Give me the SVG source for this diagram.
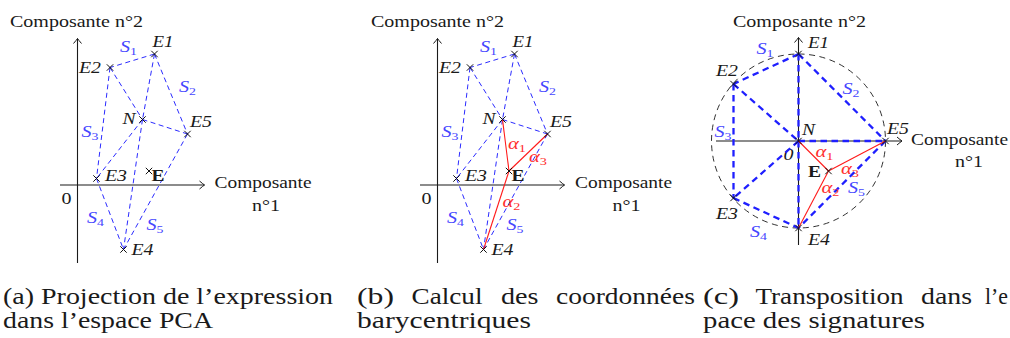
<svg xmlns="http://www.w3.org/2000/svg" width="1010" height="338" viewBox="0 0 1010 338">
<style>
.ax{stroke:#1a1a1a;stroke-width:1.1;fill:none}
.tri{stroke:#2b2bff;stroke-width:1;fill:none;stroke-dasharray:5 3.5}
.tri2{stroke:#1f1fff;stroke-width:2.3;fill:none;stroke-dasharray:6.5 4.5}
.circ{stroke:#1a1a1a;stroke-width:0.9;fill:none;stroke-dasharray:6 4.5}
.red{stroke:#ff1a1a;stroke-width:1.1;fill:none}
.x{stroke:#111;stroke-width:1;fill:none}
text{font-family:"Liberation Serif","DejaVu Serif",serif;fill:#1a1a1a}
.lab{font-size:16px;font-style:italic}
.ax-lab{font-size:16px}
.blue{fill:#4646ff}
.rd{fill:#ff2e2e}
.bold{font-size:16px;font-weight:bold}
.sub{font-size:11px;font-style:normal}
.cap{font-size:24px}
</style>
<defs>
<marker id="arr" markerWidth="12" markerHeight="12" refX="0" refY="0" viewBox="-6 -6 12 12" orient="auto" markerUnits="userSpaceOnUse">
<path d="M-5,-4 Q-1.5,-1 0,0 Q-1.5,1 -5,4" stroke="#1a1a1a" stroke-width="1" fill="none"/>
</marker>
<path id="cr" d="M-3.2,-3.2 L3.2,3.2 M-3.2,3.2 L3.2,-3.2" class="x"/>
</defs>

<!-- ===== Panel (a) ===== -->
<g id="panel-a">
<g id="a-axes">
<line class="ax" x1="77.5" y1="263" x2="77.5" y2="38.5" marker-end="url(#arr)"/>
<line class="ax" x1="60" y1="185" x2="204.5" y2="185" marker-end="url(#arr)"/>
<text class="ax-lab" x="10" y="27" textLength="133" lengthAdjust="spacingAndGlyphs">Composante n°2</text>
<text class="ax-lab" x="214.5" y="188" textLength="97" lengthAdjust="spacingAndGlyphs">Composante</text>
<text class="ax-lab" x="252" y="210.5" textLength="28" lengthAdjust="spacingAndGlyphs">n°1</text>
<text class="ax-lab" x="61.5" y="204" textLength="10" lengthAdjust="spacingAndGlyphs">0</text>
</g>
<g id="a-connectors">
<line class="tri" x1="154.5" y1="54" x2="110" y2="67.5"/>
<line class="tri" x1="154.5" y1="54" x2="142.5" y2="119.5"/>
<line class="tri" x1="154.5" y1="54" x2="187.5" y2="134"/>
<line class="tri" x1="110" y1="67.5" x2="142.5" y2="119.5"/>
<line class="tri" x1="110" y1="67.5" x2="96.5" y2="178.5"/>
<line class="tri" x1="142.5" y1="119.5" x2="187.5" y2="134"/>
<line class="tri" x1="142.5" y1="119.5" x2="96.5" y2="178.5"/>
<line class="tri" x1="142.5" y1="119.5" x2="123.5" y2="249.5"/>
<line class="tri" x1="187.5" y1="134" x2="123.5" y2="249.5"/>
<line class="tri" x1="96.5" y1="178.5" x2="123.5" y2="249.5"/>
</g>
<g id="a-E1"><use href="#cr" x="154.5" y="54"/><text class="lab" x="152.5" y="46.5" textLength="21" lengthAdjust="spacingAndGlyphs">E1</text></g>
<g id="a-E2"><use href="#cr" x="110" y="67.5"/><text class="lab" x="79" y="72.5" textLength="22" lengthAdjust="spacingAndGlyphs">E2</text></g>
<g id="a-N"><use href="#cr" x="142.5" y="119.5"/><text class="lab" x="122.5" y="124" textLength="13" lengthAdjust="spacingAndGlyphs">N</text></g>
<g id="a-E5"><use href="#cr" x="187.5" y="134"/><text class="lab" x="190" y="126.5" textLength="22" lengthAdjust="spacingAndGlyphs">E5</text></g>
<g id="a-E3"><use href="#cr" x="96.5" y="178.5"/><text class="lab" x="105" y="180.5" textLength="22" lengthAdjust="spacingAndGlyphs">E3</text></g>
<g id="a-E"><use href="#cr" x="149" y="171"/><text class="bold" x="151.5" y="180.5" textLength="13" lengthAdjust="spacingAndGlyphs">E</text></g>
<g id="a-E4"><use href="#cr" x="123.5" y="249.5"/><text class="lab" x="131.5" y="255" textLength="22" lengthAdjust="spacingAndGlyphs">E4</text></g>
<g id="a-S">
<text class="lab blue" x="120" y="52" textLength="17" lengthAdjust="spacingAndGlyphs">S<tspan class="sub" dy="3">1</tspan></text>
<text class="lab blue" x="179" y="91.5" textLength="17" lengthAdjust="spacingAndGlyphs">S<tspan class="sub" dy="3">2</tspan></text>
<text class="lab blue" x="81.5" y="136.5" textLength="17" lengthAdjust="spacingAndGlyphs">S<tspan class="sub" dy="3">3</tspan></text>
<text class="lab blue" x="87" y="223" textLength="17" lengthAdjust="spacingAndGlyphs">S<tspan class="sub" dy="3">4</tspan></text>
<text class="lab blue" x="146.5" y="230" textLength="17" lengthAdjust="spacingAndGlyphs">S<tspan class="sub" dy="3">5</tspan></text>
</g>
</g>

<!-- ===== Panel (b) ===== -->
<g id="panel-b">
<g id="b-axes">
<line class="ax" x1="437.5" y1="263" x2="437.5" y2="38.5" marker-end="url(#arr)"/>
<line class="ax" x1="420" y1="185" x2="564.5" y2="185" marker-end="url(#arr)"/>
<text class="ax-lab" x="371" y="27" textLength="133" lengthAdjust="spacingAndGlyphs">Composante n°2</text>
<text class="ax-lab" x="575" y="188" textLength="97" lengthAdjust="spacingAndGlyphs">Composante</text>
<text class="ax-lab" x="612.5" y="210.5" textLength="28" lengthAdjust="spacingAndGlyphs">n°1</text>
<text class="ax-lab" x="421.5" y="204" textLength="10" lengthAdjust="spacingAndGlyphs">0</text>
</g>
<g id="b-connectors">
<line class="tri" x1="514.5" y1="54" x2="470" y2="67.5"/>
<line class="tri" x1="514.5" y1="54" x2="502.5" y2="119.5"/>
<line class="tri" x1="514.5" y1="54" x2="547.5" y2="134"/>
<line class="tri" x1="470" y1="67.5" x2="502.5" y2="119.5"/>
<line class="tri" x1="470" y1="67.5" x2="456.5" y2="178.5"/>
<line class="tri" x1="502.5" y1="119.5" x2="547.5" y2="134"/>
<line class="tri" x1="502.5" y1="119.5" x2="456.5" y2="178.5"/>
<line class="tri" x1="502.5" y1="119.5" x2="483.5" y2="249.5"/>
<line class="tri" x1="547.5" y1="134" x2="483.5" y2="249.5"/>
<line class="tri" x1="456.5" y1="178.5" x2="483.5" y2="249.5"/>
<line class="red" x1="509" y1="171" x2="502.5" y2="119.5"/>
<line class="red" x1="509" y1="171" x2="483.5" y2="249.5"/>
<line class="red" x1="509" y1="171" x2="547.5" y2="134"/>
</g>
<g id="b-E1"><use href="#cr" x="514.5" y="54"/><text class="lab" x="512.5" y="46.5" textLength="21" lengthAdjust="spacingAndGlyphs">E1</text></g>
<g id="b-E2"><use href="#cr" x="470" y="67.5"/><text class="lab" x="439" y="72.5" textLength="22" lengthAdjust="spacingAndGlyphs">E2</text></g>
<g id="b-N"><use href="#cr" x="502.5" y="119.5"/><text class="lab" x="482.5" y="124" textLength="13" lengthAdjust="spacingAndGlyphs">N</text></g>
<g id="b-E5"><use href="#cr" x="547.5" y="134"/><text class="lab" x="550" y="126.5" textLength="22" lengthAdjust="spacingAndGlyphs">E5</text></g>
<g id="b-E3"><use href="#cr" x="456.5" y="178.5"/><text class="lab" x="465" y="180.5" textLength="22" lengthAdjust="spacingAndGlyphs">E3</text></g>
<g id="b-E"><use href="#cr" x="509" y="171"/><text class="bold" x="511.5" y="180.5" textLength="13" lengthAdjust="spacingAndGlyphs">E</text></g>
<g id="b-E4"><use href="#cr" x="483.5" y="249.5"/><text class="lab" x="491.5" y="255" textLength="22" lengthAdjust="spacingAndGlyphs">E4</text></g>
<g id="b-S">
<text class="lab blue" x="480" y="52" textLength="17" lengthAdjust="spacingAndGlyphs">S<tspan class="sub" dy="3">1</tspan></text>
<text class="lab blue" x="539" y="91.5" textLength="17" lengthAdjust="spacingAndGlyphs">S<tspan class="sub" dy="3">2</tspan></text>
<text class="lab blue" x="441.5" y="136.5" textLength="17" lengthAdjust="spacingAndGlyphs">S<tspan class="sub" dy="3">3</tspan></text>
<text class="lab blue" x="447" y="223" textLength="17" lengthAdjust="spacingAndGlyphs">S<tspan class="sub" dy="3">4</tspan></text>
<text class="lab blue" x="506.5" y="230" textLength="17" lengthAdjust="spacingAndGlyphs">S<tspan class="sub" dy="3">5</tspan></text>
</g>
<g id="b-alpha">
<text class="lab rd" x="508" y="149" textLength="18" lengthAdjust="spacingAndGlyphs">α<tspan class="sub" dy="3">1</tspan></text>
<text class="lab rd" x="529" y="161.5" textLength="18" lengthAdjust="spacingAndGlyphs">α<tspan class="sub" dy="3">3</tspan></text>
<text class="lab rd" x="502.5" y="206.5" textLength="18" lengthAdjust="spacingAndGlyphs">α<tspan class="sub" dy="3">2</tspan></text>
</g>
</g>

<!-- ===== Panel (c) ===== -->
<g id="panel-c">
<g id="c-axes">
<circle class="circ" cx="798.5" cy="141" r="87"/>
<line class="ax" x1="798.5" y1="245" x2="798.5" y2="37.5" marker-end="url(#arr)"/>
<line class="ax" x1="716" y1="141" x2="902" y2="141" marker-end="url(#arr)"/>
<text class="ax-lab" x="733" y="26.5" textLength="133" lengthAdjust="spacingAndGlyphs">Composante n°2</text>
<text class="ax-lab" x="911" y="144.5" textLength="97" lengthAdjust="spacingAndGlyphs">Composante</text>
<text class="ax-lab" x="955" y="166.5" textLength="28" lengthAdjust="spacingAndGlyphs">n°1</text>
<text class="ax-lab" x="783.5" y="159.5" font-style="italic" textLength="10" lengthAdjust="spacingAndGlyphs">0</text>
</g>
<g id="c-connectors">
<line class="tri2" x1="798.5" y1="54" x2="733.5" y2="84"/>
<line class="tri2" x1="798.5" y1="54" x2="798.5" y2="141"/>
<line class="tri2" x1="798.5" y1="54" x2="885.5" y2="141"/>
<line class="tri2" x1="733.5" y1="84" x2="798.5" y2="141"/>
<line class="tri2" x1="733.5" y1="84" x2="733.5" y2="198"/>
<line class="tri2" x1="798.5" y1="141" x2="885.5" y2="141"/>
<line class="tri2" x1="798.5" y1="141" x2="733.5" y2="198"/>
<line class="tri2" x1="798.5" y1="141" x2="798.5" y2="228"/>
<line class="tri2" x1="885.5" y1="141" x2="798.5" y2="228"/>
<line class="tri2" x1="733.5" y1="198" x2="798.5" y2="228"/>
<line class="red" x1="828.5" y1="171" x2="798.5" y2="141"/>
<line class="red" x1="828.5" y1="171" x2="798.5" y2="228"/>
<line class="red" x1="828.5" y1="171" x2="885.5" y2="141"/>
</g>
<g id="c-E1"><use href="#cr" x="798.5" y="54"/><text class="lab" x="808" y="47.5" textLength="21" lengthAdjust="spacingAndGlyphs">E1</text></g>
<g id="c-E2"><use href="#cr" x="733.5" y="84"/><text class="lab" x="716" y="76" textLength="22" lengthAdjust="spacingAndGlyphs">E2</text></g>
<g id="c-N"><use href="#cr" x="798.5" y="141"/><text class="lab" x="802" y="135" textLength="13" lengthAdjust="spacingAndGlyphs">N</text></g>
<g id="c-E5"><use href="#cr" x="885.5" y="141"/><text class="lab" x="887" y="133.5" textLength="22" lengthAdjust="spacingAndGlyphs">E5</text></g>
<g id="c-E3"><use href="#cr" x="733.5" y="198"/><text class="lab" x="716" y="218.5" textLength="22" lengthAdjust="spacingAndGlyphs">E3</text></g>
<g id="c-E"><use href="#cr" x="828.5" y="171"/><text class="bold" x="808" y="176.5" textLength="13" lengthAdjust="spacingAndGlyphs">E</text></g>
<g id="c-E4"><use href="#cr" x="798.5" y="228"/><text class="lab" x="808" y="244.5" textLength="22" lengthAdjust="spacingAndGlyphs">E4</text></g>
<g id="c-S">
<text class="lab blue" x="756.5" y="54" textLength="17" lengthAdjust="spacingAndGlyphs">S<tspan class="sub" dy="3">1</tspan></text>
<text class="lab blue" x="842.5" y="94" textLength="17" lengthAdjust="spacingAndGlyphs">S<tspan class="sub" dy="3">2</tspan></text>
<text class="lab blue" x="714.5" y="136.5" textLength="17" lengthAdjust="spacingAndGlyphs">S<tspan class="sub" dy="3">3</tspan></text>
<text class="lab blue" x="750" y="236.5" textLength="17" lengthAdjust="spacingAndGlyphs">S<tspan class="sub" dy="3">4</tspan></text>
<text class="lab blue" x="848" y="193" textLength="17" lengthAdjust="spacingAndGlyphs">S<tspan class="sub" dy="3">5</tspan></text>
</g>
<g id="c-alpha">
<text class="lab rd" x="815.5" y="156.5" textLength="18" lengthAdjust="spacingAndGlyphs">α<tspan class="sub" dy="3">1</tspan></text>
<text class="lab rd" x="841" y="174" textLength="18" lengthAdjust="spacingAndGlyphs">α<tspan class="sub" dy="3">3</tspan></text>
<text class="lab rd" x="821.5" y="193" textLength="18" lengthAdjust="spacingAndGlyphs">α<tspan class="sub" dy="3">2</tspan></text>
</g>
</g>

<!-- ===== Captions ===== -->
<g id="captions">
<text class="cap" x="3" y="303.5" textLength="330" lengthAdjust="spacingAndGlyphs">(a) Projection de l’expression</text>
<text class="cap" x="3" y="327.5" textLength="210" lengthAdjust="spacingAndGlyphs">dans l’espace PCA</text>
<text class="cap" x="357" y="303.5" textLength="37" lengthAdjust="spacingAndGlyphs">(b)</text>
<text class="cap" x="411.5" y="303.5" textLength="71" lengthAdjust="spacingAndGlyphs">Calcul</text>
<text class="cap" x="501" y="303.5" textLength="37.5" lengthAdjust="spacingAndGlyphs">des</text>
<text class="cap" x="556" y="303.5" textLength="139" lengthAdjust="spacingAndGlyphs">coordonnées</text>
<text class="cap" x="357" y="327.5" textLength="174" lengthAdjust="spacingAndGlyphs">barycentriques</text>
<text class="cap" x="703" y="303.5" textLength="36" lengthAdjust="spacingAndGlyphs">(c)</text>
<text class="cap" x="755.5" y="303.5" textLength="148" lengthAdjust="spacingAndGlyphs">Transposition</text>
<text class="cap" x="921" y="303.5" textLength="51" lengthAdjust="spacingAndGlyphs">dans</text>
<text class="cap" x="985" y="303.5" textLength="23" lengthAdjust="spacingAndGlyphs">l’e</text>
<text class="cap" x="703" y="327.5" textLength="222" lengthAdjust="spacingAndGlyphs">pace des signatures</text>
</g>
</svg>
